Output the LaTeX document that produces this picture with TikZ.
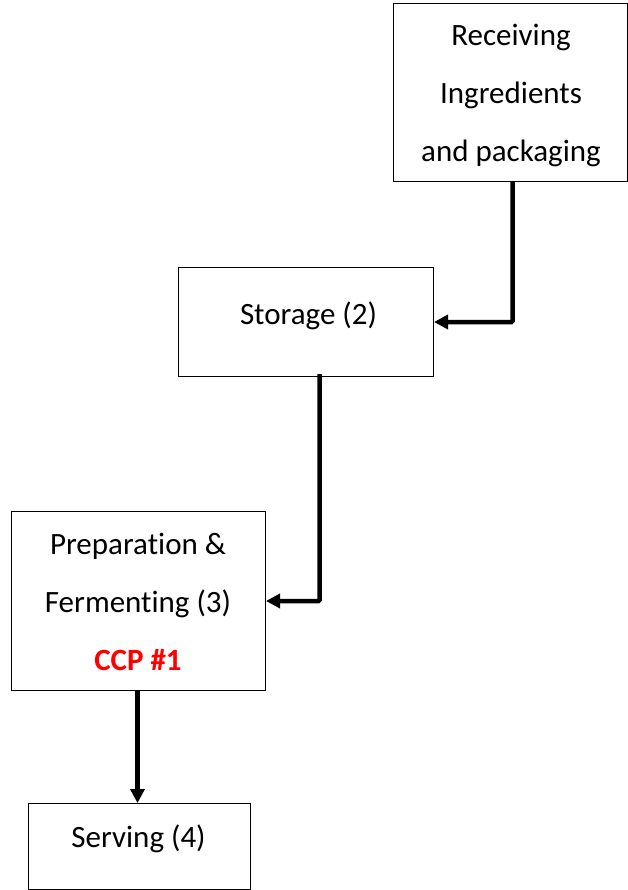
\documentclass[tikz,border=0pt]{standalone}
\usepackage{fontspec}
\setmainfont[Ligatures=NoCommon]{Carlito}
\usetikzlibrary{arrows.meta}
\begin{document}
\begin{tikzpicture}[x=1pt,y=-1pt,
  box/.style={draw=black,line width=1pt,inner sep=0pt,anchor=north west},
  lbl/.style={align=center,inner sep=0pt,font=\fontsize{31}{58}\selectfont},
  flow/.style={line width=4.5pt,-{Triangle[length=14pt,width=14pt]}}]
\useasboundingbox (0,0) rectangle (628,890);
% boxes
\node[box,minimum width=234pt,minimum height=178pt] (r) at (393,3) {};
\node[box,minimum width=255pt,minimum height=109pt] (s) at (178,267) {};
\node[box,minimum width=254pt,minimum height=179pt] (p) at (11,511) {};
\node[box,minimum width=222pt,minimum height=86pt] (v) at (28,803) {};
% texts
\node[lbl] (rt) at (511,96) {Receiving\\Ingredients\\and packaging};
\node[lbl] (st) at (308.5,316) {Storage (2)};
\node[lbl] (pt) at (138,601.5) {Preparation \&\\Fermenting (3)\\\textcolor{red}{\textbf{CCP \#1}}};
\node[lbl] (vt) at (138.5,839) {Serving (4)};
% connectors
\coordinate (a1) at ([xshift=2pt]r.south);
\coordinate (a2) at ([xshift=13.5pt,yshift=3pt]s.south);
\draw[flow,rounded corners=1pt] (a1) |- (s.east);
\draw[flow,rounded corners=1pt] (a2) |- (p.east);
\draw[flow] ([xshift=-1pt]p.south) -- ([xshift=-1pt]p.south |- v.north);
\end{tikzpicture}
\end{document}
